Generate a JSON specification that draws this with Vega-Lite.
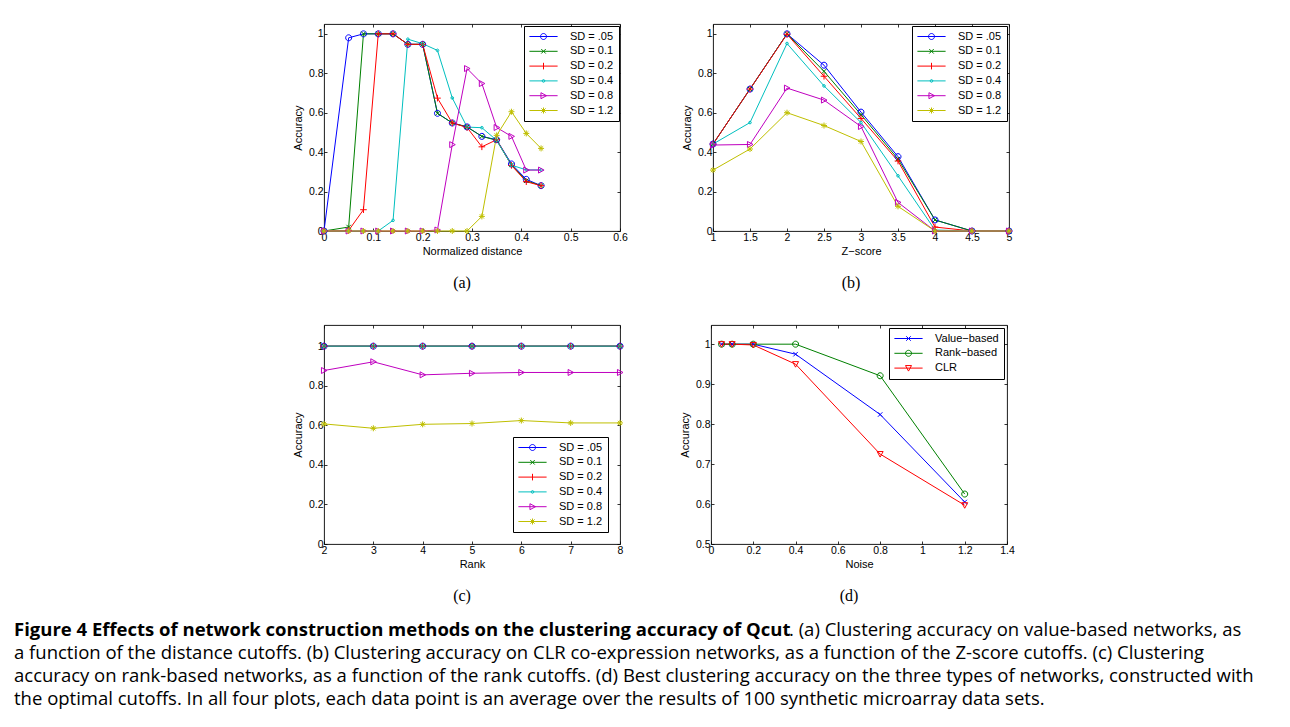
{
  "$schema": "https://vega.github.io/schema/vega-lite/v6.json",
  "background": "white",
  "padding": {"left": 14, "top": 23, "right": 0, "bottom": 0},
  "config": {
    "view": {"stroke": "#000", "strokeWidth": 0.9},
    "axis": {"grid": false, "domain": false, "ticks": true, "tickSize": -3, "tickColor": "#000", "tickWidth": 0.8,
             "labelFont": "Liberation Sans", "labelFontSize": 10.5, "labelColor": "#000", "labelPadding": 4,
             "titleFont": "Liberation Sans", "titleFontSize": 11, "titleFontWeight": "normal", "titleColor": "#000"},
    "axisX": {"labelFlush": false, "labelOverlap": false, "titlePadding": 3},
    "axisY": {"labelOverlap": false, "titlePadding": 5},
    "legend": {"padding": 5, "fillColor": "#fff", "strokeColor": "#000", "rowPadding": 2.8, "symbolSize": 36, "symbolStrokeWidth": 1, "symbolFillColor": "transparent", "symbolOpacity": 1,
               "symbolOffset": 9, "labelOffset": 21, "labelFont": "Liberation Sans", "labelFontSize": 11, "labelColor": "#000"},
    "title": {"font": "Liberation Serif", "fontSize": 16, "fontWeight": "normal", "color": "#000"}
  },
  "datasets": {
    "a": [
      {"x":0,"acc":0,"sd":"SD = .05"},{"x":0.05,"acc":0.98,"sd":"SD = .05"},{"x":0.08,"acc":1,"sd":"SD = .05"},{"x":0.11,"acc":1,"sd":"SD = .05"},{"x":0.14,"acc":1,"sd":"SD = .05"},{"x":0.17,"acc":0.947,"sd":"SD = .05"},{"x":0.2,"acc":0.947,"sd":"SD = .05"},{"x":0.23,"acc":0.597,"sd":"SD = .05"},{"x":0.26,"acc":0.548,"sd":"SD = .05"},{"x":0.29,"acc":0.528,"sd":"SD = .05"},{"x":0.32,"acc":0.48,"sd":"SD = .05"},{"x":0.35,"acc":0.463,"sd":"SD = .05"},{"x":0.38,"acc":0.34,"sd":"SD = .05"},{"x":0.41,"acc":0.262,"sd":"SD = .05"},{"x":0.44,"acc":0.23,"sd":"SD = .05"},
      {"x":0,"acc":0,"sd":"SD = 0.1"},{"x":0.05,"acc":0.02,"sd":"SD = 0.1"},{"x":0.08,"acc":1,"sd":"SD = 0.1"},{"x":0.11,"acc":1,"sd":"SD = 0.1"},{"x":0.14,"acc":1,"sd":"SD = 0.1"},{"x":0.17,"acc":0.947,"sd":"SD = 0.1"},{"x":0.2,"acc":0.947,"sd":"SD = 0.1"},{"x":0.23,"acc":0.597,"sd":"SD = 0.1"},{"x":0.26,"acc":0.548,"sd":"SD = 0.1"},{"x":0.29,"acc":0.528,"sd":"SD = 0.1"},{"x":0.32,"acc":0.48,"sd":"SD = 0.1"},{"x":0.35,"acc":0.46,"sd":"SD = 0.1"},{"x":0.38,"acc":0.335,"sd":"SD = 0.1"},{"x":0.41,"acc":0.255,"sd":"SD = 0.1"},{"x":0.44,"acc":0.23,"sd":"SD = 0.1"},
      {"x":0,"acc":0,"sd":"SD = 0.2"},{"x":0.05,"acc":0.003,"sd":"SD = 0.2"},{"x":0.08,"acc":0.108,"sd":"SD = 0.2"},{"x":0.11,"acc":1,"sd":"SD = 0.2"},{"x":0.14,"acc":1,"sd":"SD = 0.2"},{"x":0.17,"acc":0.947,"sd":"SD = 0.2"},{"x":0.2,"acc":0.947,"sd":"SD = 0.2"},{"x":0.23,"acc":0.674,"sd":"SD = 0.2"},{"x":0.26,"acc":0.548,"sd":"SD = 0.2"},{"x":0.29,"acc":0.525,"sd":"SD = 0.2"},{"x":0.32,"acc":0.427,"sd":"SD = 0.2"},{"x":0.35,"acc":0.463,"sd":"SD = 0.2"},{"x":0.38,"acc":0.333,"sd":"SD = 0.2"},{"x":0.41,"acc":0.25,"sd":"SD = 0.2"},{"x":0.44,"acc":0.23,"sd":"SD = 0.2"},
      {"x":0,"acc":0,"sd":"SD = 0.4"},{"x":0.05,"acc":0,"sd":"SD = 0.4"},{"x":0.08,"acc":0,"sd":"SD = 0.4"},{"x":0.11,"acc":0,"sd":"SD = 0.4"},{"x":0.14,"acc":0.054,"sd":"SD = 0.4"},{"x":0.17,"acc":0.973,"sd":"SD = 0.4"},{"x":0.2,"acc":0.95,"sd":"SD = 0.4"},{"x":0.23,"acc":0.916,"sd":"SD = 0.4"},{"x":0.26,"acc":0.675,"sd":"SD = 0.4"},{"x":0.29,"acc":0.527,"sd":"SD = 0.4"},{"x":0.32,"acc":0.524,"sd":"SD = 0.4"},{"x":0.35,"acc":0.46,"sd":"SD = 0.4"},{"x":0.38,"acc":0.334,"sd":"SD = 0.4"},{"x":0.41,"acc":0.31,"sd":"SD = 0.4"},{"x":0.44,"acc":0.31,"sd":"SD = 0.4"},
      {"x":0,"acc":0,"sd":"SD = 0.8"},{"x":0.05,"acc":0,"sd":"SD = 0.8"},{"x":0.08,"acc":0,"sd":"SD = 0.8"},{"x":0.11,"acc":0,"sd":"SD = 0.8"},{"x":0.14,"acc":0,"sd":"SD = 0.8"},{"x":0.17,"acc":0,"sd":"SD = 0.8"},{"x":0.2,"acc":0,"sd":"SD = 0.8"},{"x":0.23,"acc":0.005,"sd":"SD = 0.8"},{"x":0.26,"acc":0.438,"sd":"SD = 0.8"},{"x":0.29,"acc":0.824,"sd":"SD = 0.8"},{"x":0.32,"acc":0.748,"sd":"SD = 0.8"},{"x":0.35,"acc":0.525,"sd":"SD = 0.8"},{"x":0.38,"acc":0.48,"sd":"SD = 0.8"},{"x":0.41,"acc":0.309,"sd":"SD = 0.8"},{"x":0.44,"acc":0.309,"sd":"SD = 0.8"},
      {"x":0,"acc":0,"sd":"SD = 1.2"},{"x":0.05,"acc":0,"sd":"SD = 1.2"},{"x":0.08,"acc":0,"sd":"SD = 1.2"},{"x":0.11,"acc":0,"sd":"SD = 1.2"},{"x":0.14,"acc":0,"sd":"SD = 1.2"},{"x":0.17,"acc":0,"sd":"SD = 1.2"},{"x":0.2,"acc":0,"sd":"SD = 1.2"},{"x":0.23,"acc":0,"sd":"SD = 1.2"},{"x":0.26,"acc":0,"sd":"SD = 1.2"},{"x":0.29,"acc":0,"sd":"SD = 1.2"},{"x":0.32,"acc":0.074,"sd":"SD = 1.2"},{"x":0.35,"acc":0.485,"sd":"SD = 1.2"},{"x":0.38,"acc":0.605,"sd":"SD = 1.2"},{"x":0.41,"acc":0.495,"sd":"SD = 1.2"},{"x":0.44,"acc":0.419,"sd":"SD = 1.2"}
    ],
    "b": [
      {"x":1,"acc":0.441,"sd":"SD = .05"},{"x":1.5,"acc":0.72,"sd":"SD = .05"},{"x":2,"acc":1,"sd":"SD = .05"},{"x":2.5,"acc":0.841,"sd":"SD = .05"},{"x":3,"acc":0.603,"sd":"SD = .05"},{"x":3.5,"acc":0.377,"sd":"SD = .05"},{"x":4,"acc":0.056,"sd":"SD = .05"},{"x":4.5,"acc":0,"sd":"SD = .05"},{"x":5,"acc":0,"sd":"SD = .05"},
      {"x":1,"acc":0.441,"sd":"SD = 0.1"},{"x":1.5,"acc":0.72,"sd":"SD = 0.1"},{"x":2,"acc":1,"sd":"SD = 0.1"},{"x":2.5,"acc":0.81,"sd":"SD = 0.1"},{"x":3,"acc":0.59,"sd":"SD = 0.1"},{"x":3.5,"acc":0.365,"sd":"SD = 0.1"},{"x":4,"acc":0.056,"sd":"SD = 0.1"},{"x":4.5,"acc":0,"sd":"SD = 0.1"},{"x":5,"acc":0,"sd":"SD = 0.1"},
      {"x":1,"acc":0.441,"sd":"SD = 0.2"},{"x":1.5,"acc":0.72,"sd":"SD = 0.2"},{"x":2,"acc":0.998,"sd":"SD = 0.2"},{"x":2.5,"acc":0.785,"sd":"SD = 0.2"},{"x":3,"acc":0.571,"sd":"SD = 0.2"},{"x":3.5,"acc":0.355,"sd":"SD = 0.2"},{"x":4,"acc":0.02,"sd":"SD = 0.2"},{"x":4.5,"acc":0,"sd":"SD = 0.2"},{"x":5,"acc":0,"sd":"SD = 0.2"},
      {"x":1,"acc":0.441,"sd":"SD = 0.4"},{"x":1.5,"acc":0.55,"sd":"SD = 0.4"},{"x":2,"acc":0.951,"sd":"SD = 0.4"},{"x":2.5,"acc":0.736,"sd":"SD = 0.4"},{"x":3,"acc":0.55,"sd":"SD = 0.4"},{"x":3.5,"acc":0.28,"sd":"SD = 0.4"},{"x":4,"acc":0.005,"sd":"SD = 0.4"},{"x":4.5,"acc":0,"sd":"SD = 0.4"},{"x":5,"acc":0,"sd":"SD = 0.4"},
      {"x":1,"acc":0.436,"sd":"SD = 0.8"},{"x":1.5,"acc":0.439,"sd":"SD = 0.8"},{"x":2,"acc":0.725,"sd":"SD = 0.8"},{"x":2.5,"acc":0.664,"sd":"SD = 0.8"},{"x":3,"acc":0.53,"sd":"SD = 0.8"},{"x":3.5,"acc":0.145,"sd":"SD = 0.8"},{"x":4,"acc":0,"sd":"SD = 0.8"},{"x":4.5,"acc":0,"sd":"SD = 0.8"},{"x":5,"acc":0,"sd":"SD = 0.8"},
      {"x":1,"acc":0.309,"sd":"SD = 1.2"},{"x":1.5,"acc":0.416,"sd":"SD = 1.2"},{"x":2,"acc":0.6,"sd":"SD = 1.2"},{"x":2.5,"acc":0.535,"sd":"SD = 1.2"},{"x":3,"acc":0.454,"sd":"SD = 1.2"},{"x":3.5,"acc":0.125,"sd":"SD = 1.2"},{"x":4,"acc":0,"sd":"SD = 1.2"},{"x":4.5,"acc":0,"sd":"SD = 1.2"},{"x":5,"acc":0,"sd":"SD = 1.2"}
    ],
    "c": [
      {"x":2,"acc":1,"sd":"SD = .05"},{"x":3,"acc":1,"sd":"SD = .05"},{"x":4,"acc":1,"sd":"SD = .05"},{"x":5,"acc":1,"sd":"SD = .05"},{"x":6,"acc":1,"sd":"SD = .05"},{"x":7,"acc":1,"sd":"SD = .05"},{"x":8,"acc":1,"sd":"SD = .05"},
      {"x":2,"acc":1,"sd":"SD = 0.1"},{"x":3,"acc":1,"sd":"SD = 0.1"},{"x":4,"acc":1,"sd":"SD = 0.1"},{"x":5,"acc":1,"sd":"SD = 0.1"},{"x":6,"acc":1,"sd":"SD = 0.1"},{"x":7,"acc":1,"sd":"SD = 0.1"},{"x":8,"acc":1,"sd":"SD = 0.1"},
      {"x":2,"acc":1,"sd":"SD = 0.2"},{"x":3,"acc":1,"sd":"SD = 0.2"},{"x":4,"acc":1,"sd":"SD = 0.2"},{"x":5,"acc":1,"sd":"SD = 0.2"},{"x":6,"acc":1,"sd":"SD = 0.2"},{"x":7,"acc":1,"sd":"SD = 0.2"},{"x":8,"acc":1,"sd":"SD = 0.2"},
      {"x":2,"acc":1,"sd":"SD = 0.4"},{"x":3,"acc":1,"sd":"SD = 0.4"},{"x":4,"acc":1,"sd":"SD = 0.4"},{"x":5,"acc":1,"sd":"SD = 0.4"},{"x":6,"acc":1,"sd":"SD = 0.4"},{"x":7,"acc":1,"sd":"SD = 0.4"},{"x":8,"acc":1,"sd":"SD = 0.4"},
      {"x":2,"acc":0.877,"sd":"SD = 0.8"},{"x":3,"acc":0.921,"sd":"SD = 0.8"},{"x":4,"acc":0.855,"sd":"SD = 0.8"},{"x":5,"acc":0.863,"sd":"SD = 0.8"},{"x":6,"acc":0.867,"sd":"SD = 0.8"},{"x":7,"acc":0.867,"sd":"SD = 0.8"},{"x":8,"acc":0.867,"sd":"SD = 0.8"},
      {"x":2,"acc":0.607,"sd":"SD = 1.2"},{"x":3,"acc":0.585,"sd":"SD = 1.2"},{"x":4,"acc":0.605,"sd":"SD = 1.2"},{"x":5,"acc":0.609,"sd":"SD = 1.2"},{"x":6,"acc":0.624,"sd":"SD = 1.2"},{"x":7,"acc":0.612,"sd":"SD = 1.2"},{"x":8,"acc":0.612,"sd":"SD = 1.2"}
    ],
    "d": [
      {"x":0.05,"acc":1,"m":"Value−based"},{"x":0.1,"acc":1,"m":"Value−based"},{"x":0.2,"acc":1,"m":"Value−based"},{"x":0.4,"acc":0.975,"m":"Value−based"},{"x":0.8,"acc":0.824,"m":"Value−based"},{"x":1.2,"acc":0.605,"m":"Value−based"},
      {"x":0.05,"acc":1,"m":"Rank−based"},{"x":0.1,"acc":1,"m":"Rank−based"},{"x":0.2,"acc":1,"m":"Rank−based"},{"x":0.4,"acc":1,"m":"Rank−based"},{"x":0.8,"acc":0.921,"m":"Rank−based"},{"x":1.2,"acc":0.625,"m":"Rank−based"},
      {"x":0.05,"acc":1,"m":"CLR"},{"x":0.1,"acc":1,"m":"CLR"},{"x":0.2,"acc":0.998,"m":"CLR"},{"x":0.4,"acc":0.95,"m":"CLR"},{"x":0.8,"acc":0.725,"m":"CLR"},{"x":1.2,"acc":0.597,"m":"CLR"}
    ],
    "cap": [
      {"line":1,"part":"bold","text":"Figure 4 Effects of network construction methods on the clustering accuracy of Qcut"},
      {"line":1,"part":"tail","text":". (a) Clustering accuracy on value-based networks, as"},
      {"line":2,"part":"body","text":"a function of the distance cutoffs. (b) Clustering accuracy on CLR co-expression networks, as a function of the Z-score cutoffs. (c) Clustering"},
      {"line":3,"part":"body","text":"accuracy on rank-based networks, as a function of the rank cutoffs. (d) Best clustering accuracy on the three types of networks, constructed with"},
      {"line":4,"part":"body","text":"the optimal cutoffs. In all four plots, each data point is an average over the results of 100 synthetic microarray data sets."}
    ]
  },
  "resolve": {"scale": {"color": "independent", "shape": "independent"}, "legend": {"color": "independent", "shape": "independent"}},
  "spacing": 17,
  "vconcat": [
    {
      "spacing": 33,
      "resolve": {"scale": {"color": "independent", "shape": "independent"}, "legend": {"color": "independent", "shape": "independent"}},
      "vconcat": [
        {
          "spacing": 52,
          "resolve": {"scale": {"color": "independent", "shape": "independent"}, "legend": {"color": "independent", "shape": "independent"}},
          "hconcat": [
            {
              "width": 296, "height": 207,
              "data": {"name": "a"},
              "title": {"text": "(a)", "orient": "bottom", "dx": -10, "offset": 18},
              "layer": [
                {"mark": {"type": "line", "strokeWidth": 1},
                 "encoding": {
                   "x": {"field": "x", "type": "quantitative", "scale": {"domain": [0, 0.6], "nice": false}, "axis": {"values": [0, 0.1, 0.2, 0.3, 0.4, 0.5, 0.6], "format": "~g", "title": "Normalized distance"}},
                   "y": {"field": "acc", "type": "quantitative", "scale": {"domain": [0, 1.05], "nice": false}, "axis": {"values": [0, 0.2, 0.4, 0.6, 0.8, 1], "format": "~g", "title": "Accuracy"}},
                   "color": {"field": "sd", "type": "nominal", "legend": null, "scale": {"domain": ["SD = .05", "SD = 0.1", "SD = 0.2", "SD = 0.4", "SD = 0.8", "SD = 1.2"], "range": ["#0000ff", "#008000", "#ff0000", "#00bfbf", "#bf00bf", "#bfbf00"]}}
                 }},
                {"mark": {"type": "point", "filled": false, "size": 36, "strokeWidth": 1, "opacity": 1},
                 "encoding": {
                   "x": {"field": "x", "type": "quantitative", "axis": null},
                   "y": {"field": "acc", "type": "quantitative", "axis": null},
                   "color": {"field": "sd", "type": "nominal", "legend": null, "scale": {"domain": ["SD = .05", "SD = 0.1", "SD = 0.2", "SD = 0.4", "SD = 0.8", "SD = 1.2"], "range": ["#0000ff", "#008000", "#ff0000", "#00bfbf", "#bf00bf", "#bfbf00"]}},
                   "shape": {"field": "sd", "type": "nominal", "legend": null, "scale": {"domain": ["SD = .05", "SD = 0.1", "SD = 0.2", "SD = 0.4", "SD = 0.8", "SD = 1.2"],
                     "range": ["M1,0A1,1,0,1,1,-1,0A1,1,0,1,1,1,0", "M-0.75,-0.75L0.75,0.75M-0.75,0.75L0.75,-0.75", "M-1.1,0L1.1,0M0,-1.1L0,1.1", "M0.45,0A0.45,0.45,0,1,1,-0.45,0A0.45,0.45,0,1,1,0.45,0", "M-0.85,-1L1,0L-0.85,1Z", "M-1,0L1,0M0,-1L0,1M-0.7,-0.7L0.7,0.7M-0.7,0.7L0.7,-0.7"]}}
                 }},
                {"transform": [{"filter": "datum.x == 0.2"}],
                 "mark": {"type": "point", "filled": false, "size": 36, "strokeWidth": 1, "opacity": 0},
                 "encoding": {
                   "x": {"field": "x", "type": "quantitative", "axis": {"orient": "top", "values": [0, 0.1, 0.2, 0.3, 0.4, 0.5, 0.6], "labels": false, "title": null}},
                   "y": {"field": "acc", "type": "quantitative", "axis": {"orient": "right", "values": [0, 0.2, 0.4, 0.6, 0.8, 1], "labels": false, "title": null}},
                   "color": {"field": "sd", "type": "nominal", "legend": {"title": null, "orient": "top-right", "offset": 1.5}, "scale": {"domain": ["SD = .05", "SD = 0.1", "SD = 0.2", "SD = 0.4", "SD = 0.8", "SD = 1.2"], "range": ["#0000ff", "#008000", "#ff0000", "#00bfbf", "#bf00bf", "#bfbf00"]}},
                   "shape": {"field": "sd", "type": "nominal", "legend": {"title": null, "orient": "top-right", "offset": 1.5}, "scale": {"domain": ["SD = .05", "SD = 0.1", "SD = 0.2", "SD = 0.4", "SD = 0.8", "SD = 1.2"],
                     "range": ["M-4.7,0L4.7,0M1,0A1,1,0,1,1,-1,0A1,1,0,1,1,1,0", "M-4.7,0L4.7,0M-0.75,-0.75L0.75,0.75M-0.75,0.75L0.75,-0.75", "M-4.7,0L4.7,0M0,-1.1L0,1.1", "M-4.7,0L4.7,0M0.45,0A0.45,0.45,0,1,1,-0.45,0A0.45,0.45,0,1,1,0.45,0", "M-4.7,0L4.7,0M-0.85,-1L1,0L-0.85,1Z", "M-4.7,0L4.7,0M0,-1L0,1M-0.7,-0.7L0.7,0.7M-0.7,0.7L0.7,-0.7"]}}
                 }}
              ],
              "resolve": {"axis": {"x": "independent", "y": "independent"}, "scale": {"color": "independent", "shape": "independent"}}
            },
            {
              "width": 296, "height": 207,
              "data": {"name": "b"},
              "title": {"text": "(b)", "orient": "bottom", "dx": -10, "offset": 18},
              "layer": [
                {"mark": {"type": "line", "strokeWidth": 1},
                 "encoding": {
                   "x": {"field": "x", "type": "quantitative", "scale": {"domain": [1, 5], "nice": false, "zero": false}, "axis": {"values": [1, 1.5, 2, 2.5, 3, 3.5, 4, 4.5, 5], "format": "~g", "title": "Z−score"}},
                   "y": {"field": "acc", "type": "quantitative", "scale": {"domain": [0, 1.05], "nice": false}, "axis": {"values": [0, 0.2, 0.4, 0.6, 0.8, 1], "format": "~g", "title": "Accuracy"}},
                   "color": {"field": "sd", "type": "nominal", "legend": null, "scale": {"domain": ["SD = .05", "SD = 0.1", "SD = 0.2", "SD = 0.4", "SD = 0.8", "SD = 1.2"], "range": ["#0000ff", "#008000", "#ff0000", "#00bfbf", "#bf00bf", "#bfbf00"]}}
                 }},
                {"mark": {"type": "point", "filled": false, "size": 36, "strokeWidth": 1, "opacity": 1},
                 "encoding": {
                   "x": {"field": "x", "type": "quantitative", "axis": null},
                   "y": {"field": "acc", "type": "quantitative", "axis": null},
                   "color": {"field": "sd", "type": "nominal", "legend": null, "scale": {"domain": ["SD = .05", "SD = 0.1", "SD = 0.2", "SD = 0.4", "SD = 0.8", "SD = 1.2"], "range": ["#0000ff", "#008000", "#ff0000", "#00bfbf", "#bf00bf", "#bfbf00"]}},
                   "shape": {"field": "sd", "type": "nominal", "legend": null, "scale": {"domain": ["SD = .05", "SD = 0.1", "SD = 0.2", "SD = 0.4", "SD = 0.8", "SD = 1.2"],
                     "range": ["M1,0A1,1,0,1,1,-1,0A1,1,0,1,1,1,0", "M-0.75,-0.75L0.75,0.75M-0.75,0.75L0.75,-0.75", "M-1.1,0L1.1,0M0,-1.1L0,1.1", "M0.45,0A0.45,0.45,0,1,1,-0.45,0A0.45,0.45,0,1,1,0.45,0", "M-0.85,-1L1,0L-0.85,1Z", "M-1,0L1,0M0,-1L0,1M-0.7,-0.7L0.7,0.7M-0.7,0.7L0.7,-0.7"]}}
                 }},
                {"transform": [{"filter": "datum.x == 3"}],
                 "mark": {"type": "point", "filled": false, "size": 36, "strokeWidth": 1, "opacity": 0},
                 "encoding": {
                   "x": {"field": "x", "type": "quantitative", "axis": {"orient": "top", "values": [1, 1.5, 2, 2.5, 3, 3.5, 4, 4.5, 5], "labels": false, "title": null}},
                   "y": {"field": "acc", "type": "quantitative", "axis": {"orient": "right", "values": [0, 0.2, 0.4, 0.6, 0.8, 1], "labels": false, "title": null}},
                   "color": {"field": "sd", "type": "nominal", "legend": {"title": null, "orient": "top-right", "offset": 2}, "scale": {"domain": ["SD = .05", "SD = 0.1", "SD = 0.2", "SD = 0.4", "SD = 0.8", "SD = 1.2"], "range": ["#0000ff", "#008000", "#ff0000", "#00bfbf", "#bf00bf", "#bfbf00"]}},
                   "shape": {"field": "sd", "type": "nominal", "legend": {"title": null, "orient": "top-right", "offset": 2}, "scale": {"domain": ["SD = .05", "SD = 0.1", "SD = 0.2", "SD = 0.4", "SD = 0.8", "SD = 1.2"],
                     "range": ["M-4.7,0L4.7,0M1,0A1,1,0,1,1,-1,0A1,1,0,1,1,1,0", "M-4.7,0L4.7,0M-0.75,-0.75L0.75,0.75M-0.75,0.75L0.75,-0.75", "M-4.7,0L4.7,0M0,-1.1L0,1.1", "M-4.7,0L4.7,0M0.45,0A0.45,0.45,0,1,1,-0.45,0A0.45,0.45,0,1,1,0.45,0", "M-4.7,0L4.7,0M-0.85,-1L1,0L-0.85,1Z", "M-4.7,0L4.7,0M0,-1L0,1M-0.7,-0.7L0.7,0.7M-0.7,0.7L0.7,-0.7"]}}
                 }}
              ],
              "resolve": {"axis": {"x": "independent", "y": "independent"}, "scale": {"color": "independent", "shape": "independent"}}
            }
          ]
        },
        {
          "spacing": 52,
          "resolve": {"scale": {"color": "independent", "shape": "independent"}, "legend": {"color": "independent", "shape": "independent"}},
          "hconcat": [
            {
              "width": 296, "height": 219,
              "data": {"name": "c"},
              "title": {"text": "(c)", "orient": "bottom", "dx": -10, "offset": 18},
              "layer": [
                {"mark": {"type": "line", "strokeWidth": 1},
                 "encoding": {
                   "x": {"field": "x", "type": "quantitative", "scale": {"domain": [2, 8], "nice": false, "zero": false}, "axis": {"values": [2, 3, 4, 5, 6, 7, 8], "format": "~g", "title": "Rank"}},
                   "y": {"field": "acc", "type": "quantitative", "scale": {"domain": [0, 1.107], "nice": false}, "axis": {"values": [0, 0.2, 0.4, 0.6, 0.8, 1], "format": "~g", "title": "Accuracy"}},
                   "color": {"field": "sd", "type": "nominal", "legend": null, "scale": {"domain": ["SD = .05", "SD = 0.1", "SD = 0.2", "SD = 0.4", "SD = 0.8", "SD = 1.2"], "range": ["#0000ff", "#008000", "#ff0000", "#00bfbf", "#bf00bf", "#bfbf00"]}}
                 }},
                {"mark": {"type": "point", "filled": false, "size": 36, "strokeWidth": 1, "opacity": 1},
                 "encoding": {
                   "x": {"field": "x", "type": "quantitative", "axis": null},
                   "y": {"field": "acc", "type": "quantitative", "axis": null},
                   "color": {"field": "sd", "type": "nominal", "legend": null, "scale": {"domain": ["SD = .05", "SD = 0.1", "SD = 0.2", "SD = 0.4", "SD = 0.8", "SD = 1.2"], "range": ["#0000ff", "#008000", "#ff0000", "#00bfbf", "#bf00bf", "#bfbf00"]}},
                   "shape": {"field": "sd", "type": "nominal", "legend": null, "scale": {"domain": ["SD = .05", "SD = 0.1", "SD = 0.2", "SD = 0.4", "SD = 0.8", "SD = 1.2"],
                     "range": ["M1,0A1,1,0,1,1,-1,0A1,1,0,1,1,1,0", "M-0.75,-0.75L0.75,0.75M-0.75,0.75L0.75,-0.75", "M-1.1,0L1.1,0M0,-1.1L0,1.1", "M0.45,0A0.45,0.45,0,1,1,-0.45,0A0.45,0.45,0,1,1,0.45,0", "M-0.85,-1L1,0L-0.85,1Z", "M-1,0L1,0M0,-1L0,1M-0.7,-0.7L0.7,0.7M-0.7,0.7L0.7,-0.7"]}}
                 }},
                {"transform": [{"filter": "datum.x == 5"}],
                 "mark": {"type": "point", "filled": false, "size": 36, "strokeWidth": 1, "opacity": 0},
                 "encoding": {
                   "x": {"field": "x", "type": "quantitative", "axis": {"orient": "top", "values": [2, 3, 4, 5, 6, 7, 8], "labels": false, "title": null}},
                   "y": {"field": "acc", "type": "quantitative", "axis": {"orient": "right", "values": [0, 0.2, 0.4, 0.6, 0.8, 1], "labels": false, "title": null}},
                   "color": {"field": "sd", "type": "nominal", "legend": {"title": null, "orient": "bottom-right", "offset": 12}, "scale": {"domain": ["SD = .05", "SD = 0.1", "SD = 0.2", "SD = 0.4", "SD = 0.8", "SD = 1.2"], "range": ["#0000ff", "#008000", "#ff0000", "#00bfbf", "#bf00bf", "#bfbf00"]}},
                   "shape": {"field": "sd", "type": "nominal", "legend": {"title": null, "orient": "bottom-right", "offset": 12}, "scale": {"domain": ["SD = .05", "SD = 0.1", "SD = 0.2", "SD = 0.4", "SD = 0.8", "SD = 1.2"],
                     "range": ["M-4.7,0L4.7,0M1,0A1,1,0,1,1,-1,0A1,1,0,1,1,1,0", "M-4.7,0L4.7,0M-0.75,-0.75L0.75,0.75M-0.75,0.75L0.75,-0.75", "M-4.7,0L4.7,0M0,-1.1L0,1.1", "M-4.7,0L4.7,0M0.45,0A0.45,0.45,0,1,1,-0.45,0A0.45,0.45,0,1,1,0.45,0", "M-4.7,0L4.7,0M-0.85,-1L1,0L-0.85,1Z", "M-4.7,0L4.7,0M0,-1L0,1M-0.7,-0.7L0.7,0.7M-0.7,0.7L0.7,-0.7"]}}
                 }}
              ],
              "resolve": {"axis": {"x": "independent", "y": "independent"}, "scale": {"color": "independent", "shape": "independent"}}
            },
            {
              "width": 296, "height": 219,
              "data": {"name": "d"},
              "title": {"text": "(d)", "orient": "bottom", "dx": -10, "offset": 18},
              "layer": [
                {"mark": {"type": "line", "strokeWidth": 1},
                 "encoding": {
                   "x": {"field": "x", "type": "quantitative", "scale": {"domain": [0, 1.4], "nice": false}, "axis": {"values": [0, 0.2, 0.4, 0.6, 0.8, 1, 1.2, 1.4], "format": "~g", "title": "Noise"}},
                   "y": {"field": "acc", "type": "quantitative", "scale": {"domain": [0.5, 1.048], "nice": false, "zero": false}, "axis": {"values": [0.5, 0.6, 0.7, 0.8, 0.9, 1], "format": "~g", "title": "Accuracy"}},
                   "color": {"field": "m", "type": "nominal", "legend": null, "scale": {"domain": ["Value−based", "Rank−based", "CLR"], "range": ["#0000ff", "#008000", "#ff0000"]}}
                 }},
                {"mark": {"type": "point", "filled": false, "size": 36, "strokeWidth": 1, "opacity": 1},
                 "encoding": {
                   "x": {"field": "x", "type": "quantitative", "axis": null},
                   "y": {"field": "acc", "type": "quantitative", "axis": null},
                   "color": {"field": "m", "type": "nominal", "legend": null, "scale": {"domain": ["Value−based", "Rank−based", "CLR"], "range": ["#0000ff", "#008000", "#ff0000"]}},
                   "shape": {"field": "m", "type": "nominal", "legend": null, "scale": {"domain": ["Value−based", "Rank−based", "CLR"],
                     "range": ["M-0.75,-0.75L0.75,0.75M-0.75,0.75L0.75,-0.75", "M1,0A1,1,0,1,1,-1,0A1,1,0,1,1,1,0", "M-1,-0.85L1,-0.85L0,1Z"]}}
                 }},
                {"transform": [{"filter": "datum.x == 0.8"}],
                 "mark": {"type": "point", "filled": false, "size": 36, "strokeWidth": 1, "opacity": 0},
                 "encoding": {
                   "x": {"field": "x", "type": "quantitative", "axis": {"orient": "top", "values": [0, 0.2, 0.4, 0.6, 0.8, 1, 1.2, 1.4], "labels": false, "title": null}},
                   "y": {"field": "acc", "type": "quantitative", "axis": {"orient": "right", "values": [0.5, 0.6, 0.7, 0.8, 0.9, 1], "labels": false, "title": null}},
                   "color": {"field": "m", "type": "nominal", "legend": {"title": null, "orient": "top-right", "offset": 3}, "scale": {"domain": ["Value−based", "Rank−based", "CLR"], "range": ["#0000ff", "#008000", "#ff0000"]}},
                   "shape": {"field": "m", "type": "nominal", "legend": {"title": null, "orient": "top-right", "offset": 3}, "scale": {"domain": ["Value−based", "Rank−based", "CLR"],
                     "range": ["M-4.7,0L4.7,0M-0.75,-0.75L0.75,0.75M-0.75,0.75L0.75,-0.75", "M-4.7,0L4.7,0M1,0A1,1,0,1,1,-1,0A1,1,0,1,1,1,0", "M-4.7,0L4.7,0M-1,-0.85L1,-0.85L0,1Z"]}}
                 }}
              ],
              "resolve": {"axis": {"x": "independent", "y": "independent"}, "scale": {"color": "independent", "shape": "independent"}}
            }
          ]
        }
      ]
    },
    {
      "width": 959, "height": 69,
      "view": {"stroke": null},
      "data": {"name": "cap"},
      "layer": [
        {"transform": [{"filter": "datum.part === 'bold'"}],
         "mark": {"type": "text", "align": "left", "baseline": "middle", "font": "Open Sans", "fontSize": 18.5, "fontWeight": "bold", "color": "#000"},
         "encoding": {
           "x": {"datum": 0, "type": "quantitative", "scale": {"domain": [0, 1], "range": [-310, 959]}, "axis": null},
           "y": {"field": "line", "type": "ordinal", "scale": {"type": "point", "padding": 0}, "axis": null},
           "text": {"field": "text"}}},
        {"transform": [{"filter": "datum.part === 'tail'"}],
         "mark": {"type": "text", "align": "left", "baseline": "middle", "font": "Open Sans", "fontSize": 18.5, "color": "#000"},
         "encoding": {
           "x": {"datum": 0.6107, "type": "quantitative", "axis": null},
           "y": {"field": "line", "type": "ordinal", "axis": null},
           "text": {"field": "text"}}},
        {"transform": [{"filter": "datum.part === 'body'"}],
         "mark": {"type": "text", "align": "left", "baseline": "middle", "font": "Open Sans", "fontSize": 18.5, "color": "#000"},
         "encoding": {
           "x": {"datum": 0, "type": "quantitative", "axis": null},
           "y": {"field": "line", "type": "ordinal", "axis": null},
           "text": {"field": "text"}}}
      ]
    }
  ]
}
